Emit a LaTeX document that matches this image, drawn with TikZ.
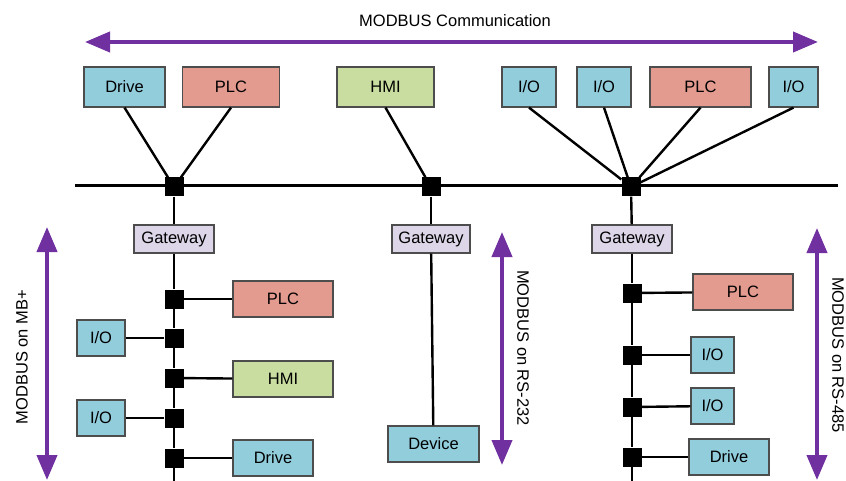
\documentclass[tikz,border=0pt]{standalone}
\usepackage{fontspec}
\setmainfont{Liberation Sans}
\usetikzlibrary{arrows.meta}
\definecolor{bleu}{HTML}{92CDDC}
\definecolor{rouge}{HTML}{E39A8F}
\definecolor{vert}{HTML}{C9DDA0}
\definecolor{lavande}{HTML}{DDD5E8}
\definecolor{bord}{HTML}{4D4D4D}
\definecolor{violet}{HTML}{7030A0}
\begin{document}
\begin{tikzpicture}[x=1pt, y=-1pt, font=\fontsize{16.5}{19}\selectfont]
\tikzset{boite/.style={draw=bord, line width=1.2pt, inner sep=0pt, minimum height=36pt}}
\tikzset{jonction/.style={fill=black, inner sep=0pt, minimum size=19pt}}
\tikzset{fleche/.style={draw=violet, line width=4pt, {Triangle[width=20pt,length=25pt]}-{Triangle[width=20pt,length=25pt]}}}
\tikzset{fil/.style={line width=2.4pt}}
\useasboundingbox (0,0) rectangle (846,481);
\node (T) at (455,21) {MODBUS Communication};
\coordinate (F1) at (85,42);
\coordinate (F2) at (818,42);
\draw[fleche] (F1) -- (F2);
\node[boite, fill=bleu, minimum width=81pt, minimum height=40pt] (D1) at (124.5,87) {Drive};
\node[boite, fill=rouge, minimum width=97pt, minimum height=40pt] (P1) at (231,87) {PLC};
\node[boite, fill=vert, minimum width=97pt, minimum height=40pt] (H1) at (385.5,87) {HMI};
\node[boite, fill=bleu, minimum width=54pt, minimum height=40pt] (A1) at (529,87) {I/O};
\node[boite, fill=bleu, minimum width=54pt, minimum height=40pt] (A2) at (604,87) {I/O};
\node[boite, fill=rouge, minimum width=101pt, minimum height=40pt] (P2) at (700.5,87) {PLC};
\node[boite, fill=bleu, minimum width=49pt, minimum height=40pt] (A3) at (793.5,87) {I/O};
\coordinate (B0) at (75,186);
\coordinate (B1) at (838,186);
\draw[line width=3pt] (B0) -- (B1);
\node[jonction] (J1) at (174,187) {};
\node[jonction] (J2) at (431,187) {};
\node[jonction] (J3) at (631,187) {};
\draw[fil] (D1.south) -- (J1);
\draw[fil] (P1.south) -- (J1);
\draw[fil] (H1.south) -- (J2);
\draw[fil] (A1.south) -- (J3);
\draw[fil] (A2.south) -- (J3);
\draw[fil] (P2.south) -- (J3);
\draw[fil] (A3.south) -- (J3);
\node[boite, fill=lavande, minimum width=80pt, minimum height=28pt] (G1) at (174,239) {Gateway};
\node[boite, fill=lavande, minimum width=78pt, minimum height=28pt] (G2) at (431,239) {Gateway};
\node[boite, fill=lavande, minimum width=80pt, minimum height=28pt] (G3) at (632,239) {Gateway};
\draw[fil] (J1) -- (G1);
\draw[fil] (J2) -- (G2);
\draw[fil] (J3) -- (G3);
\node[jonction] (K1) at (174,299) {};
\node[jonction] (K2) at (174,338) {};
\node[jonction] (K3) at (174,378) {};
\node[jonction] (K4) at (174,418) {};
\node[jonction] (K5) at (174,458) {};
\coordinate (K6) at (174,481);
\node[boite, fill=rouge, minimum width=100pt] (P3) at (283,299) {PLC};
\node[boite, fill=bleu, minimum width=48pt] (A4) at (101,338) {I/O};
\node[boite, fill=vert, minimum width=100pt] (H2) at (283,379) {HMI};
\node[boite, fill=bleu, minimum width=48pt] (A5) at (101,418) {I/O};
\node[boite, fill=bleu, minimum width=80pt] (D2) at (273,458) {Drive};
\draw[fil] (G1) -- (K1) -- (K2) -- (K3) -- (K4) -- (K5) -- (K6);
\draw[fil] (K1) -- (P3);
\draw[fil] (K2) -- (A4);
\draw[fil] (K3) -- (H2);
\draw[fil] (K4) -- (A5);
\draw[fil] (K5) -- (D2);
\node[boite, fill=bleu, minimum width=91pt] (E1) at (433.5,444) {Device};
\draw[fil] (G2) -- (E1);
\node[jonction] (L1) at (632,293) {};
\node[jonction] (L2) at (632,355) {};
\node[jonction] (L3) at (632,407) {};
\node[jonction] (L4) at (632,457) {};
\coordinate (L5) at (632,481);
\node[boite, fill=rouge, minimum width=100pt] (P4) at (743,292) {PLC};
\node[boite, fill=bleu, minimum width=43pt] (A6) at (712.5,355) {I/O};
\node[boite, fill=bleu, minimum width=43pt] (A7) at (712.5,406) {I/O};
\node[boite, fill=bleu, minimum width=80pt] (D3) at (729,457) {Drive};
\draw[fil] (G3) -- (L1) -- (L2) -- (L3) -- (L4) -- (L5);
\draw[fil] (L1) -- (P4);
\draw[fil] (L2) -- (A6);
\draw[fil] (L3) -- (A7);
\draw[fil] (L4) -- (D3);
\coordinate (M1) at (47,227);
\coordinate (M2) at (47,480);
\draw[fleche] (M1) -- (M2);
\node[rotate=90] (T1) at (22,357) {MODBUS on MB+};
\coordinate (N1) at (502,232);
\coordinate (N2) at (502,465);
\draw[fleche] (N1) -- (N2);
\node[rotate=-90] (T2) at (523,348) {MODBUS on RS-232};
\coordinate (R1) at (817,228);
\coordinate (R2) at (817,480);
\draw[fleche] (R1) -- (R2);
\node[rotate=-90] (T3) at (838,355) {MODBUS on RS-485};
\end{tikzpicture}
\end{document}
